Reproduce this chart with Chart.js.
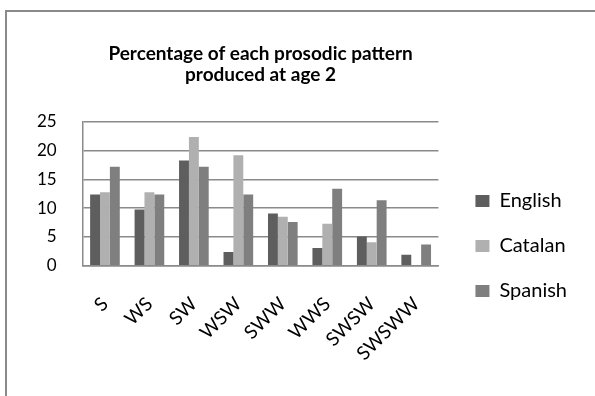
<!DOCTYPE html>
<html>
<head>
<meta charset="utf-8">
<script src="https://cdn.jsdelivr.net/npm/chart.js@4"></script>
<style>
  html, body { margin: 0; padding: 0; background: #fff; }
  #wrap { position: relative; width: 595px; height: 396px; overflow: hidden; background: #fff; }
  #frame { position: absolute; left: 5px; top: 10px; width: 600px; height: 400px;
           border-left: 2px solid #8a8a8a; border-top: 2px solid #8a8a8a; box-sizing: border-box; }
  canvas { position: absolute; left: 0; top: 0; }
</style>
</head>
<body>
<div id="wrap">
  <div id="frame"></div>
  <canvas id="c" width="595" height="396"></canvas>
</div>
<script>
const categories = ['S', 'WS', 'SW', 'WSW', 'SWW', 'WWS', 'SWSW', 'SWSWW'];
const english = [12.4, 9.8, 18.3, 2.4, 9.1, 3.1, 5.1, 1.9];
const catalan = [12.8, 12.8, 22.4, 19.2, 8.5, 7.3, 4.1, 0];
const spanish = [17.2, 12.4, 17.2, 12.4, 7.6, 13.4, 11.4, 3.7];
const seriesNames = ['English', 'Catalan', 'Spanish'];
const titleLines = ['Percentage of each prosodic pattern', 'produced at age 2'];
const yTicks = [0, 5, 10, 15, 20, 25];

const FONT = 'Lato, "Open Sans", sans-serif';

const layoutFix = {
  id: 'layoutFix',
  afterLayout(chart) {
    const ca = chart.chartArea;
    const t = chart.titleBlock;
    if (t) { t.left = ca.left; t.right = ca.right; t.width = ca.right - ca.left; }
    const lg = chart.legend;
    if (lg) {
      lg.top = ca.top; lg.bottom = 370; lg.height = lg.bottom - lg.top;
      lg.left += 12; lg.right += 12;
    }
  }
};

new Chart(document.getElementById('c'), {
  type: 'bar',
  data: {
    labels: categories,
    datasets: [
      { label: seriesNames[0], data: english, backgroundColor: '#5e5e5e' },
      { label: seriesNames[1], data: catalan, backgroundColor: '#b0b0b0' },
      { label: seriesNames[2], data: spanish, backgroundColor: '#7f7f7f' }
    ]
  },
  options: {
    responsive: false,
    animation: false,
    devicePixelRatio: 1,
    categoryPercentage: 0.667,
    barPercentage: 1.0,
    layout: { padding: { top: 14, left: 11, right: 30, bottom: 4 } },
    plugins: {
      title: {
        display: true,
        text: titleLines,
        color: '#000',
        font: { family: FONT, size: 19, weight: 'bold', lineHeight: '21px' },
        padding: { top: 29, bottom: 37 }
      },
      legend: {
        display: true,
        position: 'right',
        labels: {
          color: '#000',
          font: { family: FONT, size: 20 },
          boxWidth: 14,
          boxHeight: 12,
          padding: 25
        }
      },
      tooltip: { enabled: false }
    },
    scales: {
      x: {
        grid: { display: false, drawTicks: false },
        border: { display: true, color: '#8a8a8a', width: 1.5 },
        ticks: { color: '#000', font: { family: FONT, size: 19 }, maxRotation: 45, minRotation: 45, autoSkip: false, padding: 27 }
      },
      y: {
        min: 0, max: 25,
        afterBuildTicks(scale) { scale.ticks = yTicks.map(v => ({ value: v })); },
        grid: { color: '#8a8a8a', lineWidth: 1.5, drawTicks: false },
        border: { display: true, color: '#8a8a8a', width: 1.5 },
        ticks: { color: '#000', font: { family: FONT, size: 17 }, padding: 26 }
      }
    }
  },
  plugins: [layoutFix]
});
</script>
</body>
</html>
